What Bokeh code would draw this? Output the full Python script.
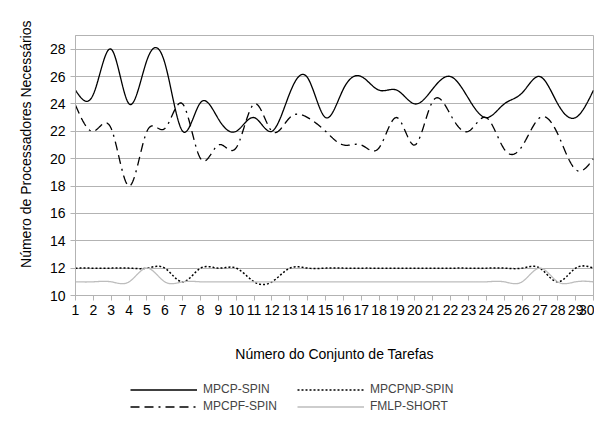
import numpy as np
from bokeh.plotting import figure
from bokeh.layouts import column
from bokeh.models import Legend, LegendItem, FixedTicker, Range1d, Title
from bokeh.embed import file_html
from bokeh.resources import INLINE

conjuntos = list(range(1, 31))
mpcp_spin = [25, 24.7, 28, 24, 27.2, 27.0, 22, 24.1, 22.9, 22, 23, 22, 24.8, 25.9, 23,
             25.1, 26, 25, 25, 24, 25.1, 26, 24.4, 23, 24, 24.8, 26, 24, 23, 25]
mpcpnp_spin = [12, 12, 12, 12, 12, 12, 11, 12, 12, 12, 11, 11, 12, 12, 12,
               12, 12, 12, 12, 12, 12, 12, 12, 12, 12, 12, 12, 11, 12, 12]
mpcpf_spin = [23.9, 22, 22.2, 18, 22, 22.2, 24, 20, 21, 20.8, 24, 22, 23, 23, 22,
              21, 21, 20.8, 23, 21, 24.2, 23.2, 22, 23, 20.7, 20.9, 23, 21.8, 19.2, 20]
fmlp_short = [11, 11, 11, 11, 12, 11, 11, 11, 11, 11, 11, 11, 11, 11, 11,
              11, 11, 11, 11, 11, 11, 11, 11, 11, 11, 11, 12, 11, 11, 11]
y_ticks = list(range(10, 30, 2))
series_names = ["MPCP-SPIN", "MPCPNP-SPIN", "MPCPF-SPIN", "FMLP-SHORT"]
all_series = [mpcp_spin, mpcpnp_spin, mpcpf_spin, fmlp_short]


def smooth(xs, ys, n=20):
    x = np.asarray(xs, float)
    y = np.asarray(ys, float)
    m = len(x)
    h = np.diff(x)
    A = np.zeros((m, m))
    b = np.zeros(m)
    A[0, 0] = 1
    A[-1, -1] = 1
    for i in range(1, m - 1):
        A[i, i - 1] = h[i - 1]
        A[i, i] = 2 * (h[i - 1] + h[i])
        A[i, i + 1] = h[i]
        b[i] = 6 * ((y[i + 1] - y[i]) / h[i] - (y[i] - y[i - 1]) / h[i - 1])
    M = np.linalg.solve(A, b)
    xo, yo = [], []
    for i in range(m - 1):
        t = np.linspace(x[i], x[i + 1], n, endpoint=(i == m - 2))
        hi = h[i]
        s = (M[i] * (x[i + 1] - t) ** 3 / (6 * hi) + M[i + 1] * (t - x[i]) ** 3 / (6 * hi)
             + (y[i] / hi - M[i] * hi / 6) * (x[i + 1] - t)
             + (y[i + 1] / hi - M[i + 1] * hi / 6) * (t - x[i]))
        xo.extend(t.tolist())
        yo.extend(s.tolist())
    return xo, yo


FONT = "Liberation Sans"
GRID = "#b3b3b3"
styles = [
    dict(line_color="black", line_width=1.3),
    dict(line_color="black", line_width=1.5, line_dash="2 2"),
    dict(line_color="black", line_width=1.3, line_dash="9 5 9 5 2 5"),
    dict(line_color="#bdbdbd", line_width=1.3),
]

p = figure(width=594, height=380, output_backend="svg", toolbar_location=None,
           x_range=Range1d(1, 30), y_range=Range1d(10, 29),
           min_border_left=75, min_border_right=1, min_border_top=35, min_border_bottom=85)
p.background_fill_color = "white"
p.border_fill_color = "white"
p.outline_line_color = GRID
p.outline_line_width = 1

for vals, st in zip(all_series, styles):
    p.line(*smooth(conjuntos, vals), **st)

p.xaxis.ticker = FixedTicker(ticks=conjuntos)
p.yaxis.ticker = FixedTicker(ticks=y_ticks)
p.xgrid.grid_line_color = None
p.ygrid.grid_line_color = GRID
p.ygrid.grid_line_width = 1

for ax in (p.xaxis[0], p.yaxis[0]):
    ax.axis_line_color = GRID
    ax.major_tick_line_color = GRID
    ax.minor_tick_line_color = None
    ax.major_tick_in = 0
    ax.major_tick_out = 5
    ax.major_label_text_font = FONT
    ax.major_label_text_font_size = "14px"
    ax.major_label_text_color = "#000000"
    ax.axis_label_text_font = FONT
    ax.axis_label_text_font_size = "14px"
    ax.axis_label_text_font_style = "normal"
    ax.axis_label_text_color = "#000000"

p.xaxis.axis_label = "Número do Conjunto de Tarefas"
p.xaxis.major_label_standoff = 4
p.yaxis.major_label_standoff = 5
p.xaxis.axis_label_standoff = 28

ytitle = Title(text="Número de Processadores Necessários", align="right", offset=-15,
               vertical_align="bottom", standoff=25, text_font=FONT,
               text_font_size="14px", text_font_style="normal", text_color="#000000")
p.add_layout(ytitle, "left")

# legend in its own strip under the chart (series drawn outside its visible range)
lg = figure(width=594, height=37, output_backend="svg", toolbar_location=None,
            x_range=Range1d(1, 30), y_range=Range1d(100, 101),
            x_axis_type=None, y_axis_type=None,
            min_border_left=0, min_border_right=0, min_border_top=0, min_border_bottom=0)
lg.grid.visible = False
lg.outline_line_color = None
lg.background_fill_color = "white"
lg.border_fill_color = "white"
items = []
for name, vals, st in zip(series_names, all_series, styles):
    r = lg.line(x=conjuntos, y=vals, **st)
    items.append(LegendItem(label=name, renderers=[r]))
legend = Legend(items=items, orientation="horizontal", ncols=2, location=(55, 4),
                glyph_width=67, glyph_height=13, label_standoff=6, spacing=3,
                label_width=91, label_height=13,
                label_text_font=FONT, label_text_font_size="12px",
                border_line_color=None, background_fill_alpha=0, margin=0, padding=0)
lg.add_layout(legend, "center")

layout = column(p, lg, spacing=0)
open("out.html", "w").write(file_html(layout, INLINE))
